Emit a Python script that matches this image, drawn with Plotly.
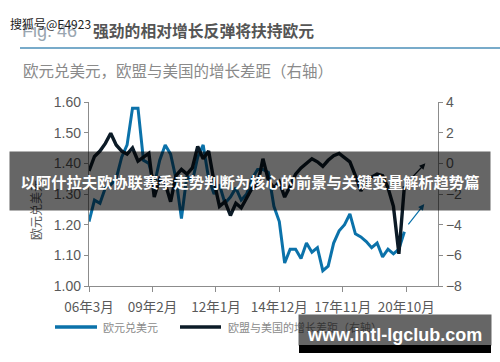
import pandas as pd
import plotly.graph_objects as go

# ---------------- data (quarterly, end of quarter) ----------------
QUARTERS = pd.date_range("2006-03-01", periods=59, freq="3MS")

EURUSD = [
    1.21, 1.28, 1.27, 1.32,   # 2006
    1.33, 1.35, 1.42, 1.46,   # 2007
    1.58, 1.58, 1.41, 1.40,   # 2008
    1.33, 1.41, 1.46, 1.43,   # 2009
    1.35, 1.22, 1.36, 1.34,   # 2010
    1.42, 1.46, 1.35, 1.30,   # 2011
    1.33, 1.27, 1.29, 1.32,   # 2012
    1.28, 1.30, 1.35, 1.38,   # 2013
    1.38, 1.37, 1.26, 1.21,   # 2014
    1.075, 1.12, 1.12, 1.09,  # 2015
    1.14, 1.11, 1.125, 1.05,  # 2016
    1.065, 1.14, 1.18, 1.20,  # 2017
    1.235, 1.17, 1.16, 1.145, # 2018
    1.125, 1.14, 1.095, 1.12, # 2019
    1.105, 1.12, 1.177,       # 2020
]

GROWTH_GAP = [
    -0.5, 0.45, 0.8, 1.3,     # 2006
    1.96, 1.2, 0.8, 0.6,      # 2007
    1.0, 0.15, 0.4, 0.65,     # 2008
    -2.2, -1.0, -1.3, -2.5,   # 2009
    -0.8, -0.4, -0.7, -0.3,   # 2010
    1.1, 0.3, 0.8, -1.2,      # 2011
    -2.8, -2.5, -3.4, -2.6,   # 2012
    -2.9, -2.2, -1.6, -1.4,   # 2013
    0.3, -1.1, -1.6, -1.2,    # 2014
    -2.2, -1.5, -0.7, -0.3,   # 2015
    0.0, 0.3, 0.1, -0.2,      # 2016
    0.2, 0.5, 0.65, 0.4,      # 2017
    0.1, -0.8, -1.8, -1.2,    # 2018
    -0.9, -0.7, -0.8, -1.6,   # 2019
    -2.8, -5.9, -1.5,         # 2020
]

TICK_DATES = ["2006-03-01", "2009-02-01", "2012-01-01",
              "2014-12-01", "2017-11-01", "2020-10-01"]
TICK_LABELS = ["06年3月", "09年2月", "12年1月", "14年12月", "17年11月", "20年10月"]

SERIES_NAMES = ["欧元兑美元", "欧盟与美国的增长差距（右轴）"]

# arrows showing expected direction (tail -> head)
BLUE_ARROW = (("2020-10-18", 1.196), ("2021-08-01", 1.267))
DARK_ARROW = (("2020-12-10", -1.04), ("2021-08-20", 0.0))

# ---------------- styling ----------------
BLUE = "#0b72aa"
DARK = "#0c1b27"
AXIS = "#8c8c8c"
TXT = "#595959"
FONT = "Liberation Sans, Noto Sans CJK SC, sans-serif"
CJK = "Noto Sans CJK SC, sans-serif"

W, H = 500, 362
PL, PR, PT, PB = 89, 438, 102, 286


def px(x):
    return (x - PL) / (PR - PL)


def py(y):
    return (PB - y) / (PB - PT)


fig = go.Figure()
fig.add_trace(go.Scatter(x=QUARTERS, y=EURUSD, mode="lines", name=SERIES_NAMES[0],
                         line=dict(color=BLUE, width=3), yaxis="y"))
fig.add_trace(go.Scatter(x=QUARTERS, y=GROWTH_GAP, mode="lines", name=SERIES_NAMES[1],
                         line=dict(color=DARK, width=3.4), yaxis="y2"))

axis_common = dict(showline=True, linecolor=AXIS, linewidth=1.3, ticks="outside",
                   tickcolor=AXIS, showgrid=False, zeroline=False,
                   tickfont=dict(family=FONT, size=14, color=TXT))

fig.update_layout(
    width=W, height=H,
    margin=dict(l=PL, r=W - PR, t=PT, b=H - PB),
    paper_bgcolor="white", plot_bgcolor="white",
    showlegend=False,
    xaxis=dict(type="date", range=["2006-03-01", "2022-03-20"],
               tickvals=TICK_DATES, ticktext=TICK_LABELS, ticklen=5,
               ticklabelstandoff=4,
               **{**axis_common, "tickfont": dict(family=CJK, size=13.5, color=TXT)}),
    yaxis=dict(range=[1.0, 1.6], dtick=0.1, tickformat=".2f", ticklen=4, **axis_common),
    yaxis2=dict(range=[-8, 4], dtick=2, overlaying="y", side="right", ticklen=4,
                anchor="x", **axis_common),
)

ann = []
shapes = []

# title
ann.append(dict(xref="paper", yref="paper", x=px(20), y=py(31), xanchor="left", yanchor="middle",
                text="Fig. 46", showarrow=False,
                font=dict(family=FONT, size=18, color="#9aa6b0")))
ann.append(dict(xref="paper", yref="paper", x=px(91), y=py(31), xanchor="left", yanchor="middle",
                text="<b>强劲的相对增长反弹将扶持欧元</b>", showarrow=False,
                font=dict(family=CJK, size=15.8, color="#555555")))
shapes.append(dict(type="line", xref="paper", yref="paper", x0=px(20), x1=px(500),
                   y0=py(48), y1=py(48), line=dict(color="#4b8fb8", width=1.5)))
ann.append(dict(xref="paper", yref="paper", x=px(21), y=py(70), xanchor="left", yanchor="middle",
                text="欧元兑美元，欧盟与美国的增长差距（右轴）", showarrow=False,
                font=dict(family=CJK, size=15.5, color="#8a8a8a")))

# y-axis title
ann.append(dict(xref="paper", yref="paper", x=px(35), y=py(210), xanchor="center", yanchor="middle",
                text="欧元兑美元", textangle=-90, showarrow=False,
                font=dict(family=CJK, size=12, color=TXT)))

# arrows
(bt, bh) = BLUE_ARROW
ann.append(dict(xref="x", yref="y", axref="x", ayref="y", x=bh[0], y=bh[1], ax=bt[0], ay=bt[1],
                showarrow=True, arrowhead=2, arrowsize=1, arrowwidth=1.2, arrowcolor=BLUE, text=""))
(dt, dh) = DARK_ARROW
ann.append(dict(xref="x", yref="y2", axref="x", ayref="y2", x=dh[0], y=dh[1], ax=dt[0], ay=dt[1],
                showarrow=True, arrowhead=2, arrowsize=1, arrowwidth=1.2, arrowcolor=DARK, text=""))

# manual legend
shapes.append(dict(type="line", xref="paper", yref="paper", x0=px(55), x1=px(97),
                   y0=py(327), y1=py(327), line=dict(color=BLUE, width=3.5)))
shapes.append(dict(type="line", xref="paper", yref="paper", x0=px(180), x1=px(221),
                   y0=py(327), y1=py(327), line=dict(color=DARK, width=3.5)))
ann.append(dict(xref="paper", yref="paper", x=px(101), y=py(327), xanchor="left", yanchor="middle",
                text=SERIES_NAMES[0], showarrow=False, font=dict(family=CJK, size=11, color="#8a8a8a")))
ann.append(dict(xref="paper", yref="paper", x=px(226), y=py(327), xanchor="left", yanchor="middle",
                text=SERIES_NAMES[1], showarrow=False, font=dict(family=CJK, size=11, color="#8a8a8a")))

# overlays (banner, watermarks)
ann.append(dict(xref="paper", yref="paper", x=px(250), y=py(181), xanchor="center", yanchor="middle",
                text="<b>以阿什拉夫欧协联赛季走势判断为核心的前景与关键变量解析趋势篇</b>",
                showarrow=False, width=480, height=58, borderpad=0,
                bgcolor="rgba(0,0,0,0.6)", font=dict(family=CJK, size=15.3, color="white")))
ann.append(dict(xref="paper", yref="paper", x=px(8), y=py(24), xanchor="left", yanchor="middle",
                text="搜狐号@E4923", showarrow=False,
                font=dict(family=CJK, size=12, color="#222222")))
ann.append(dict(xref="paper", yref="paper", x=px(395), y=py(330), xanchor="center", yanchor="middle",
                text="", showarrow=False, width=192, height=30, borderpad=0,
                bgcolor="rgba(0,0,0,0.6)"))
shapes.append(dict(type="rect", xref="paper", yref="paper", x0=px(299), x1=px(491),
                   y0=py(353), y1=py(345), line=dict(width=0), fillcolor="black", layer="above"))
ann.append(dict(xref="paper", yref="paper", x=px(394), y=py(335), xanchor="center", yanchor="middle",
                text="<b>www.intl-lgclub.com</b>", showarrow=False,
                font=dict(family=FONT, size=18, color="white")))

fig.update_layout(annotations=ann, shapes=shapes)
fig.write_html("out.html")
